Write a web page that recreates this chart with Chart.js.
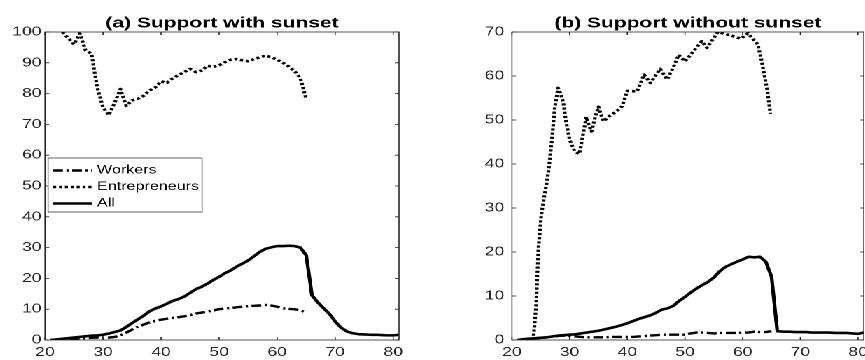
<!DOCTYPE html>
<html>
<head>
<meta charset="utf-8">
<script src="https://cdn.jsdelivr.net/npm/chart.js@4.4.1/dist/chart.umd.min.js"></script>
<style>
html, body { margin: 0; padding: 0; background: #fff; overflow: hidden; width: 865px; height: 360px; }
/* the reference figure is stretched horizontally, so draw narrow and widen */
#stage { position: absolute; left: 0; top: 0; width: 625px; height: 360px; transform: scaleX(1.4); transform-origin: 0 0; }
#left  { position: absolute; left: 0; top: 0; }
#right { position: absolute; left: 307px; top: 0; }
</style>
</head>
<body>
<div id="stage">
  <canvas id="left" width="307" height="360"></canvas>
  <canvas id="right" width="318" height="360"></canvas>
</div>
<script>
// ── Data ─────────────────────────────────────────────────────────────────────

const X_TICKS = [20, 30, 40, 50, 60, 70, 80];
const SERIES_LABELS = ['Workers', 'Entrepreneurs', 'All'];

const agesAll = [21, 22, 23, 24, 25, 26, 27, 28, 29, 30, 31, 32, 33, 34, 35, 36, 37, 38, 39, 40,
    41, 42, 43, 44, 45, 46, 47, 48, 49, 50, 51, 52, 53, 54, 55, 56, 57, 58, 59, 60,
    61, 62, 63, 64, 65, 66, 67, 68, 69, 70, 71, 72, 73, 74, 75, 76, 77, 78, 79, 80, 81];
const agesWorkers = [21, 22, 23, 24, 25, 26, 27, 28, 29, 30, 31, 32, 33, 34, 35, 36, 37, 38, 39, 40,
    41, 42, 43, 44, 45, 46, 47, 48, 49, 50, 51, 52, 53, 54, 55, 56, 57, 58, 59, 60,
    61, 62, 63, 64, 65];

// (a) Support with sunset
const allA = [0, 0.2, 0.4, 0.6, 0.8, 1.0, 1.2, 1.4, 1.5, 1.7, 2.1, 2.6, 3.1, 4.2, 5.5, 6.7, 7.9, 9.3, 10.2, 10.9,
    11.8, 12.7, 13.3, 14.1, 15.3, 16.5, 17.3, 18.3, 19.5, 20.5, 21.7, 22.6, 23.8, 24.8, 25.8, 27.2, 28.6, 29.6, 30.1, 30.5,
    30.5, 30.6, 30.5, 30.0, 27.5, 14.5, 12.2, 10.3, 8.5, 6.0, 4.0, 2.8, 2.2, 1.9, 1.8, 1.7, 1.7, 1.6, 1.5, 1.5, 1.7];
const workersA = [0, 0.1, 0.2, 0.3, 0.4, 0.5, 0.6, 0.7, 0.8, 0.8, 0.8, 1.0, 1.5, 2.4, 3.4, 4.3, 5.0, 5.7, 6.2, 6.6,
    6.9, 7.2, 7.4, 7.7, 8.1, 8.6, 8.9, 9.2, 9.6, 10.0, 10.2, 10.4, 10.6, 10.8, 11.0, 11.1, 11.2, 11.4, 11.2, 10.8,
    10.3, 10.1, 10.0, 9.6, 9.0];
const entAgesA = [23, 24, 25, 26, 27, 28, 29, 30, 31, 32, 33, 34, 35, 36, 37, 38, 39, 40, 41, 42, 43, 44,
    45, 46, 47, 48, 49, 50, 51, 52, 53, 54, 55, 56, 57, 58, 59, 60, 61, 62, 63, 64, 65];
const entA = [100, 98, 96, 99.5, 94, 93, 82, 75.5, 73, 77, 81.5, 76, 77.8, 78.3, 79.3, 81, 82, 84, 83.5, 85, 86, 87,
    88, 87, 87.5, 89, 88.7, 89.2, 90.2, 91, 91.2, 90.8, 90.5, 91.2, 91.8, 92.3, 91.8, 91, 90, 88.8, 87.3, 85, 78.3];

// (b) Support without sunset
const allB = [0, 0.2, 0.3, 0.4, 0.5, 0.6, 0.8, 1.0, 1.1, 1.2, 1.3, 1.5, 1.7, 1.9, 2.1, 2.4, 2.7, 3.0, 3.4, 3.8,
    4.3, 4.8, 5.2, 5.6, 6.2, 6.9, 7.2, 7.8, 8.9, 9.8, 10.8, 11.7, 12.5, 13.2, 14.2, 15.6, 16.6, 17.2, 17.8, 18.3,
    18.9, 18.8, 18.9, 17.8, 14.4, 2.0, 1.9, 1.9, 1.8, 1.8, 1.8, 1.7, 1.7, 1.7, 1.7, 1.6, 1.6, 1.6, 1.5, 1.4, 1.7];
const workersB = [0, 0.1, 0.2, 0.4, 0.5, 0.6, 0.8, 0.9, 1.0, 0.9, 0.8, 0.7, 0.6, 0.6, 0.6, 0.6, 0.7, 0.7, 0.7, 0.7,
    0.7, 0.8, 0.9, 1.0, 1.1, 1.2, 1.2, 1.2, 1.2, 1.2, 1.5, 1.7, 1.7, 1.6, 1.5, 1.6, 1.6, 1.6, 1.6, 1.7,
    1.7, 1.9, 1.8, 1.8, 2.0];
const entAgesB = [23.7, 24.2, 24.6, 25.1, 25.5, 26, 26.4, 27, 27.4, 28, 28.5, 28.9, 29.4, 30, 30.9, 31.7, 32.3, 32.9,
    33.4, 33.8, 34.4, 35, 35.5, 35.9, 36.8, 37.7, 38.4, 39.1, 40, 41.7, 42.9, 44, 45.7, 46.9, 48, 48.9,
    50, 51.7, 52.9, 53.8, 55.7, 57.7, 59.7, 60.9, 62.6, 63.2, 63.7, 64.3, 64.8];
const entB = [0, 8, 21, 28.5, 31.8, 35.5, 39, 46.5, 52.5, 57.3, 55.8, 54, 49.5, 45.5, 42.8, 42.3, 46.5, 50.7,
    48.5, 47.4, 50.5, 53, 51, 49.7, 50.8, 51.6, 52.3, 53.1, 56.6, 56.5, 60.3, 58.4, 61.6, 59.2, 62, 64.8,
    63.3, 66, 67.9, 66.4, 70, 69.3, 68.5, 69.7, 67.2, 64, 60.6, 56.5, 51.4];

// ── Styles ───────────────────────────────────────────────────────────────────

const AXIS_COLOR = '#262626';
const FONT = '"Liberation Sans", Arial, Helvetica, sans-serif';
const TICK_LEN = 3;

function pts(xs, ys) { return xs.map((x, i) => ({ x, y: ys[i] })); }

function makeDatasets(workers, entAges, ent, all) {
    return [
        { label: SERIES_LABELS[0], data: pts(agesWorkers, workers), borderColor: '#000', borderWidth: 2.4, borderDash: [7, 2.5, 1.6, 2.5] },
        { label: SERIES_LABELS[1], data: pts(entAges, ent), borderColor: '#000', borderWidth: 2.6, borderDash: [2.2, 2] },
        { label: SERIES_LABELS[2], data: pts(agesAll, all), borderColor: '#000', borderWidth: 2.6 }
    ];
}

// Box, inward ticks on all sides, title and (optionally) legend
function panelPlugin(title, showLegend) {
    return {
        id: 'panel',
        afterDatasetsDraw(chart) {
            const { ctx, chartArea: a } = chart;
            const x = chart.scales.x, y = chart.scales.y;
            ctx.save();
            ctx.setLineDash([]);
            ctx.strokeStyle = AXIS_COLOR;
            ctx.lineWidth = 0.8;
            ctx.strokeRect(a.left, a.top, a.right - a.left, a.bottom - a.top);
            ctx.beginPath();
            x.ticks.forEach(t => {
                const px = x.getPixelForValue(t.value);
                ctx.moveTo(px, a.bottom); ctx.lineTo(px, a.bottom - TICK_LEN);
                ctx.moveTo(px, a.top); ctx.lineTo(px, a.top + TICK_LEN);
            });
            y.ticks.forEach(t => {
                const py = y.getPixelForValue(t.value);
                ctx.moveTo(a.left, py); ctx.lineTo(a.left + TICK_LEN, py);
                ctx.moveTo(a.right, py); ctx.lineTo(a.right - TICK_LEN, py);
            });
            ctx.stroke();

            ctx.fillStyle = '#000';
            ctx.font = 'bold 15px "Liberation Sans Narrow", ' + FONT;
            ctx.textAlign = 'center';
            ctx.textBaseline = 'alphabetic';
            ctx.fillText(title, (a.left + a.right) / 2, 27.5);

            if (showLegend) {
                const bx = 34.3, by = 158, bw = 110, bh = 54;
                ctx.fillStyle = '#fff';
                ctx.fillRect(bx, by, bw, bh);
                ctx.lineWidth = 0.7;
                ctx.strokeStyle = AXIS_COLOR;
                ctx.strokeRect(bx, by, bw, bh);
                const rows = [170.5, 187, 203.5];
                chart.data.datasets.forEach((ds, i) => {
                    ctx.strokeStyle = ds.borderColor;
                    ctx.lineWidth = ds.borderWidth;
                    ctx.setLineDash(ds.borderDash || []);
                    ctx.beginPath();
                    ctx.moveTo(37.9, rows[i]);
                    ctx.lineTo(65.7, rows[i]);
                    ctx.stroke();
                    ctx.setLineDash([]);
                    ctx.fillStyle = '#000';
                    ctx.font = '11.5px ' + FONT;
                    ctx.textAlign = 'left';
                    ctx.textBaseline = 'middle';
                    ctx.fillText(ds.label, 69.3, rows[i]);
                });
            }
            ctx.restore();
        }
    };
}

function panelOptions(yMax, yWidth, yPad, padRight) {
    return {
        responsive: false,
        animation: false,
        devicePixelRatio: 2,
        layout: { padding: { left: 0, right: padRight, top: 32, bottom: 0 } },
        elements: {
            point: { radius: 0 },
            line: { tension: 0, borderCapStyle: 'butt', borderJoinStyle: 'round', fill: false }
        },
        plugins: { legend: { display: false }, tooltip: { enabled: false }, title: { display: false } },
        scales: {
            x: {
                type: 'linear', min: 20, max: 81,
                grid: { display: false, drawTicks: false },
                border: { display: false },
                afterBuildTicks: s => { s.ticks = X_TICKS.map(v => ({ value: v })); },
                ticks: { padding: 5, color: AXIS_COLOR, font: { family: FONT, size: 12.5 }, maxRotation: 0, autoSkip: false },
                afterFit: s => { s.height = 20; }
            },
            y: {
                type: 'linear', min: 0, max: yMax,
                grid: { display: false, drawTicks: false },
                border: { display: false },
                ticks: { stepSize: 10, padding: yPad, color: AXIS_COLOR, font: { family: FONT, size: 12.5 } },
                afterFit: s => { s.width = yWidth; }
            }
        }
    };
}

new Chart(document.getElementById('left'), {
    type: 'line',
    data: { datasets: makeDatasets(workersA, entAgesA, entA, allA) },
    options: panelOptions(100, 32.1, 2.5, 22),
    plugins: [panelPlugin('(a) Support with sunset', true)]
});

new Chart(document.getElementById('right'), {
    type: 'line',
    data: { datasets: makeDatasets(workersB, entAgesB, entB, allB) },
    options: panelOptions(70, 58.7, 5.5, 6.4),
    plugins: [panelPlugin('(b) Support without sunset', false)]
});
</script>
</body>
</html>
